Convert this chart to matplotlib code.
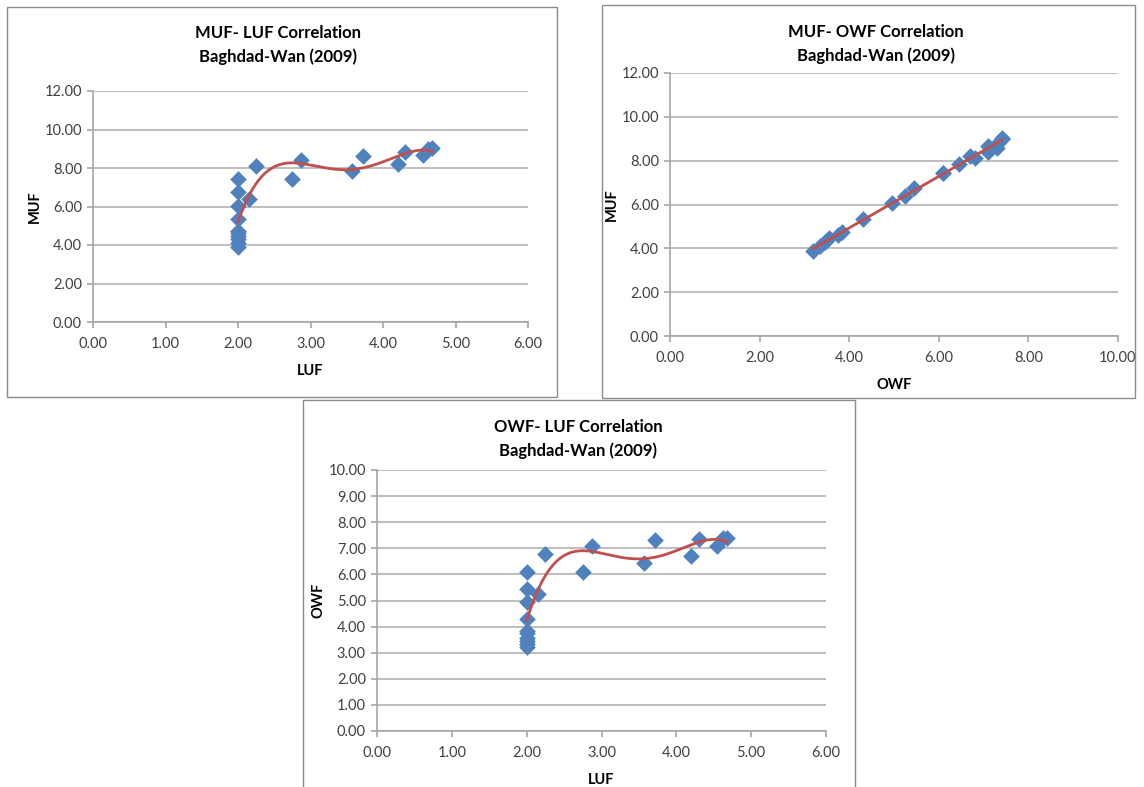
import numpy as np
import matplotlib
matplotlib.use("Agg")
import matplotlib.pyplot as plt
from matplotlib.patches import Rectangle

# ---- data ----
luf = [2.00, 2.00, 2.00, 2.00, 2.00, 2.00, 2.00, 2.00, 2.00, 2.00,
       2.15, 2.25, 2.75, 2.87, 3.57, 3.72, 4.20, 4.30, 4.55, 4.62, 4.68]
muf = [7.45, 6.75, 6.05, 5.35, 4.75, 4.60, 4.45, 4.30, 4.10, 3.90,
       6.40, 8.10, 7.45, 8.40, 7.85, 8.60, 8.20, 8.85, 8.65, 9.00, 9.05]
owf = [6.10, 5.45, 4.95, 4.30, 3.85, 3.75, 3.55, 3.45, 3.35, 3.20,
       5.25, 6.80, 6.10, 7.10, 6.45, 7.30, 6.70, 7.35, 7.10, 7.40, 7.40]

titles = ["MUF- LUF Correlation\nBaghdad-Wan (2009)",
          "MUF- OWF Correlation\nBaghdad-Wan (2009)",
          "OWF- LUF Correlation\nBaghdad-Wan (2009)"]

W, H = 1144, 787
fig = plt.figure(figsize=(W / 100, H / 100), dpi=100)
plt.rcParams['font.family'] = ['Lato', 'DejaVu Sans']

MARK = '#4F81BD'
LINE = '#C0504D'
GRID = '#BFBFBF'
TXT = '#404040'


def px_axes(l, r, t, b):
    return fig.add_axes([l / W, 1 - b / H, (r - l) / W, (b - t) / H])


def frame(l, t, r, b):
    fig.add_artist(Rectangle((l / W, 1 - b / H), (r - l) / W, (b - t) / H,
                             transform=fig.transFigure, fill=False,
                             edgecolor='#8C8C8C', linewidth=1.0))


def style(ax, xmax, xstep, ymax, ystep, xlabel, ylabel, ylp):
    ax.set_xlim(0, xmax)
    ax.set_ylim(0, ymax)
    ax.set_xticks(np.arange(0, xmax + 1e-9, xstep))
    ax.set_yticks(np.arange(0, ymax + 1e-9, ystep))
    ax.xaxis.set_major_formatter(matplotlib.ticker.FormatStrFormatter('%.2f'))
    ax.yaxis.set_major_formatter(matplotlib.ticker.FormatStrFormatter('%.2f'))
    ax.grid(axis='y', color=GRID, linewidth=1.5)
    ax.set_axisbelow(True)
    for s in ['top', 'right']:
        ax.spines[s].set_visible(False)
    for s in ['left', 'bottom']:
        ax.spines[s].set_color('#A6A6A6')
        ax.spines[s].set_linewidth(1.2)
    ax.tick_params(axis='both', direction='out', length=4, width=1.2,
                   color='#A6A6A6', labelcolor=TXT, labelsize=10.5)
    ax.tick_params(axis='x', pad=7)
    ax.tick_params(axis='y', pad=4)
    ax.set_xlabel(xlabel, fontsize=10.5, fontweight='bold', color='black', labelpad=9)
    ax.set_ylabel(ylabel, fontsize=10.5, fontweight='bold', color='black', labelpad=ylp)


def trend(ax, x, y, deg):
    c = np.polyfit(x, y, deg)
    xs = np.linspace(min(x), max(x), 300)
    ax.plot(xs, np.polyval(c, xs), color=LINE, linewidth=2.0, zorder=3)


# panel frames
frame(7, 7, 557, 397)
frame(602, 5, 1135, 398)
frame(303, 400, 855, 800)

SZ = 72

# panel 1: MUF vs LUF
ax1 = px_axes(93, 528, 91, 322)
ax1.scatter(luf, muf, marker='D', s=SZ, color=MARK, zorder=2, linewidths=0)
trend(ax1, luf, muf, 4)
style(ax1, 6, 1, 12, 2, 'LUF', 'MUF', 2)
fig.text(278 / W, 1 - 45 / H, titles[0], ha='center', va='center',
         fontsize=12, fontweight='bold', linespacing=1.6)

# panel 2: MUF vs OWF
ax2 = px_axes(670, 1118, 73, 336)
ax2.scatter(owf, muf, marker='D', s=SZ, color=MARK, zorder=2, linewidths=0)
trend(ax2, owf, muf, 1)
style(ax2, 10, 2, 12, 2, 'OWF', 'MUF', 2)
fig.text(876 / W, 1 - 44 / H, titles[1], ha='center', va='center',
         fontsize=12, fontweight='bold', linespacing=1.6)

# panel 3: OWF vs LUF
ax3 = px_axes(377, 826, 470, 731)
ax3.scatter(luf, owf, marker='D', s=SZ, color=MARK, zorder=2, linewidths=0)
trend(ax3, luf, owf, 4)
style(ax3, 6, 1, 10, 1, 'LUF', 'OWF', 2)
fig.text(578 / W, 1 - 439 / H, titles[2], ha='center', va='center',
         fontsize=12, fontweight='bold', linespacing=1.6)

fig.savefig('out.png', dpi=100, facecolor='white')
